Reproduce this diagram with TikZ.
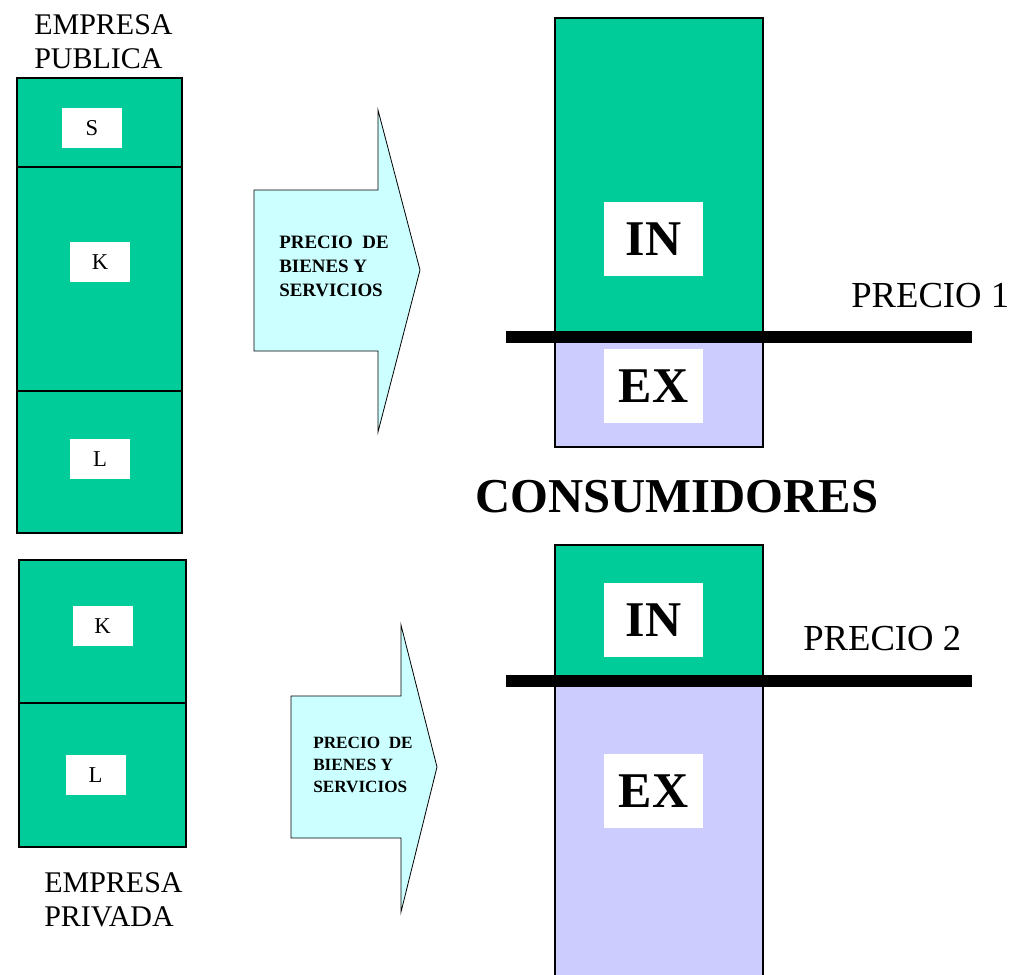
\documentclass[tikz,border=0pt]{standalone}
\usepackage{fontspec}
\setmainfont{Liberation Serif}
\definecolor{verde}{RGB}{0,204,153}
\definecolor{lila}{RGB}{204,204,255}
\definecolor{celeste}{RGB}{204,255,255}
\tikzset{
    celda/.style={draw=black, fill=verde, line width=0.9pt},
    lilac/.style={draw=black, fill=lila, line width=0.9pt},
    etiqueta/.style={fill=white, inner sep=0pt, minimum width=45pt, minimum height=30pt,
        font=\fontsize{17}{18}\selectfont},
    grande/.style={fill=white, inner sep=0pt, minimum width=74.25pt, minimum height=55.5pt,
        font=\fontsize{37.5}{40}\selectfont\bfseries},
    flecha/.style={draw=black, fill=celeste, line width=0.6pt},
    precio/.style={line width=9pt, black}
}
\begin{document}
\begin{tikzpicture}[x=0.75pt,y=-0.75pt]
        \useasboundingbox (0,0) rectangle (1012,974);
        %empresa publica
        \foreach \ya/\yb in {78/167,167/391,391/533}{
            \draw[celda] (17,\ya) rectangle (182,\yb);
        }
        \foreach \x/\y/\n/\l in {92/128/s1/S,100/262/k1/K,100/459/l1/L}{
            \node[etiqueta] (\n) at (\x,\y) {\l};
        }
        \node[anchor=north west, inner sep=0pt, align=left, font=\fontsize{22.5}{26}\selectfont]
            (pub) at (34,14) {EMPRESA\\PUBLICA};

        %empresa privada
        \foreach \ya/\yb in {560/703,703/847}{
            \draw[celda] (19,\ya) rectangle (186,\yb);
        }
        \foreach \x/\y/\n/\l in {102.5/626/k2/K,95.5/775/l2/L}{
            \node[etiqueta] (\n) at (\x,\y) {\l};
        }
        \node[anchor=north west, inner sep=0pt, align=left, font=\fontsize{22.5}{26}\selectfont]
            (priv) at (44,872) {EMPRESA\\PRIVADA};

        %flechas
        \draw[flecha] (254,190) -- (378,190) -- (378,110) -- (420,270) -- (378,432)
            -- (378,351) -- (254,351) -- cycle;
        \node[anchor=west, inner sep=0pt, align=left, font=\fontsize{14.2}{18}\selectfont\bfseries]
            (f1) at (279,266) {PRECIO~ DE\\BIENES Y\\SERVICIOS};
        \draw[flecha] (291,696) -- (401,696) -- (401,625) -- (437,767) -- (401,912)
            -- (401,838) -- (291,838) -- cycle;
        \node[anchor=west, inner sep=0pt, align=left, font=\fontsize{12.9}{16.5}\selectfont\bfseries]
            (f2) at (313,765) {PRECIO~ DE\\BIENES Y\\SERVICIOS};

        %consumidores
        \draw[celda] (555,18) rectangle (763,337);
        \draw[lilac] (555,337) rectangle (763,447);
        \draw[celda] (555,545) rectangle (763,680);
        \draw[lilac] (555,680) rectangle (763,980);
        \foreach \x/\y/\n/\l in {653.5/239/in1/IN,653.5/386/ex1/EX,653.5/620/in2/IN,653.5/791/ex2/EX}{
            \node[grande] (\n) at (\x,\y) {\l};
        }
        \coordinate (p1a) at (506,337);
        \coordinate (p1b) at (972,337);
        \coordinate (p2a) at (506,680.5);
        \coordinate (p2b) at (972,680.5);
        \draw[precio] (p1a) -- (p1b);
        \draw[precio] (p2a) -- (p2b);
        \node[anchor=base west, inner sep=0pt, font=\fontsize{27.5}{30}\selectfont] (t1) at (851,307) {PRECIO 1};
        \node[anchor=base west, inner sep=0pt, font=\fontsize{27.5}{30}\selectfont] (t2) at (803,650) {PRECIO 2};
        \node[anchor=base west, inner sep=0pt, font=\fontsize{36.5}{40}\selectfont\bfseries] (cons) at (475,512) {CONSUMIDORES};
    \end{tikzpicture}
\end{document}
